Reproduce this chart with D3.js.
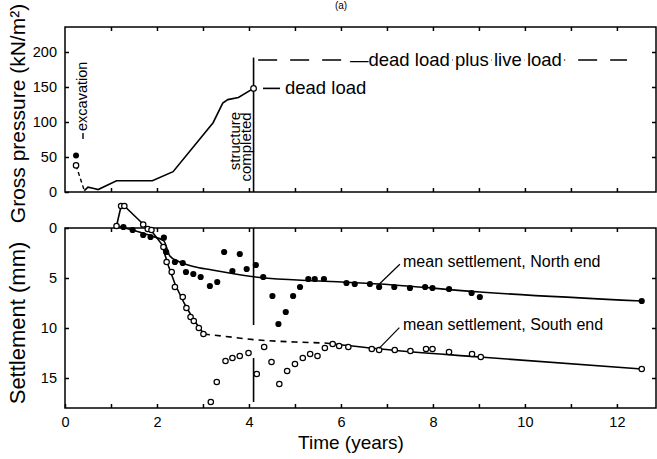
<!DOCTYPE html>
<html>
<head>
<meta charset="utf-8">
<script src="https://cdn.jsdelivr.net/npm/d3@7"></script>
<style>
  html, body { margin: 0; padding: 0; background: #fff; }
  svg { display: block; }
  text { font-family: "Liberation Sans", Arial, Helvetica, sans-serif; fill: #000; }
</style>
</head>
<body>
<svg id="chart" width="657" height="459"></svg>
<script>
// ---- Gross pressure history (top panel) ----
const pressureT = [0.42, 0.5, 0.63, 0.72, 1.12, 1.9, 2.35, 3.22, 3.43, 3.54, 3.77, 4.1];
const pressureP = [2, 7, 5, 3.5, 16, 16, 29, 99, 127, 132, 135, 148];
const excavationT = [0.24, 0.42];
const excavationP = [38, 2];
const excavationFilled = { t: 0.24, p: 52 };
const completionT = 4.1;
const completionTop = 192;
const liveLoadP = 188.5;
const liveLoadSpan = [4.2, 12.22];
const pressureTicks = [0, 50, 100, 150, 200];

// ---- Settlement records (bottom panel) ----
const northT = [1.27, 1.47, 1.70, 1.86, 2.15, 2.20, 2.39, 2.56, 2.63, 2.79, 2.95, 3.15, 3.31, 3.46, 3.64, 3.80, 3.95, 4.15, 4.31, 4.51, 4.64, 4.80, 4.96, 5.11, 5.29, 5.43, 5.63, 6.12, 6.30, 6.63, 6.83, 7.16, 7.50, 7.83, 7.99, 8.35, 8.84, 9.02, 12.54];
const northS = [-0.1, 0.2, 0.7, 0.9, 0.97, 2.4, 3.4, 3.5, 4.4, 4.6, 4.9, 5.8, 5.4, 2.4, 4.3, 2.6, 4.1, 3.7, 4.9, 6.8, 9.6, 8.4, 6.8, 5.9, 5.1, 5.1, 5.1, 5.5, 5.6, 5.6, 5.9, 5.9, 6.0, 5.9, 6.0, 6.1, 6.5, 6.9, 7.3];
const southT = [1.12, 1.22, 1.29, 1.70, 1.80, 1.88, 2.14, 2.21, 2.32, 2.39, 2.56, 2.64, 2.73, 2.80, 2.91, 3.01, 3.17, 3.30, 3.49, 3.64, 3.80, 3.99, 4.17, 4.33, 4.49, 4.66, 4.83, 5.00, 5.17, 5.33, 5.49, 5.65, 5.82, 5.96, 6.16, 6.67, 6.83, 7.17, 7.51, 7.85, 7.99, 8.35, 8.85, 9.04, 12.54];
const southS = [-0.2, -2.2, -2.2, -0.35, 0.1, 0.2, 1.9, 3.4, 4.4, 5.9, 6.9, 8.0, 8.9, 9.3, 10.0, 10.6, 17.4, 15.4, 13.3, 13.0, 12.8, 12.5, 14.6, 11.9, 13.4, 15.6, 14.3, 13.6, 13.0, 12.6, 12.8, 12.0, 11.6, 11.8, 11.9, 12.1, 12.2, 12.2, 12.3, 12.1, 12.1, 12.4, 12.6, 12.9, 14.1];

// mean settlement curves
const northMeanT = [1.12, 1.5, 1.88, 2.15, 2.28, 2.45, 2.79, 3.2, 3.51, 4.24, 5.54, 6.85, 9.02, 12.54];
const northMeanS = [-0.2, 0.25, 0.8, 1.3, 2.8, 3.3, 3.85, 4.2, 4.45, 4.95, 5.3, 5.6, 6.4, 7.3];
const southEarlyT = [1.12, 1.22, 1.29, 1.72, 1.9, 2.1, 2.25, 2.4, 2.6, 2.8, 3.02];
const southEarlyS = [-0.2, -2.2, -2.2, -0.3, 0.4, 1.6, 3.8, 5.7, 7.6, 9.2, 10.6];
const southGapT = [3.02, 3.5, 4.2, 5.0, 5.65];
const southGapS = [10.6, 10.85, 11.2, 11.4, 11.5];
const southLateT = [5.65, 6.85, 9.02, 12.54];
const southLateS = [11.5, 12.1, 12.9, 14.1];
const completionSegments = [[0, 9.7], [13.0, 17.4]];
const settlementTicks = [0, 5, 10, 15];
const yearTicks = d3.range(0, 13);

// ---- Layout ----
const svg = d3.select("#chart");
const left = 65, right = 656;
const x = d3.scaleLinear().domain([0, 12.85]).range([left, right]);
const yP = d3.scaleLinear().domain([0, 235.7]).range([192, 27]);
const yS = d3.scaleLinear().domain([0, 18]).range([228, 408]);
const INK = "#000";
const tickFont = "14.5px";

function styleAxis(g) {
  g.select(".domain").remove();
  g.selectAll(".tick line").attr("stroke", INK).attr("stroke-width", 1.5);
  g.selectAll(".tick text").style("font-size", tickFont).attr("fill", INK);
}

// frames
svg.append("rect").attr("x", left).attr("y", yP(235.7)).attr("width", right - left)
  .attr("height", yP(0) - yP(235.7)).attr("fill", "none").attr("stroke", INK).attr("stroke-width", 1.5);
svg.append("rect").attr("x", left).attr("y", yS(0)).attr("width", right - left)
  .attr("height", yS(18) - yS(0)).attr("fill", "none").attr("stroke", INK).attr("stroke-width", 1.5);

// top panel axes
svg.append("g").attr("transform", `translate(0,${yP(0)})`)
  .call(d3.axisBottom(x).tickValues(yearTicks.slice(1)).tickSize(-4).tickFormat("")).call(styleAxis);
svg.append("g").attr("transform", `translate(0,${yP(235.7)})`)
  .call(d3.axisTop(x).tickValues(yearTicks.slice(1)).tickSize(-4).tickFormat("")).call(styleAxis);
svg.append("g").attr("transform", `translate(${left},0)`)
  .call(d3.axisLeft(yP).tickValues(pressureTicks).tickSize(-4).tickPadding(8)).call(styleAxis);
svg.append("g").attr("transform", `translate(${right},0)`)
  .call(d3.axisRight(yP).tickValues(pressureTicks.slice(1)).tickSize(-4).tickFormat("")).call(styleAxis);

// bottom panel axes
svg.append("g").attr("transform", `translate(0,${yS(18)})`)
  .call(d3.axisBottom(x).tickValues(yearTicks).tickSize(-4).tickPadding(9)
    .tickFormat(d => d % 2 === 0 ? d : "")).call(styleAxis);
svg.append("g").attr("transform", `translate(0,${yS(0)})`)
  .call(d3.axisTop(x).tickValues(yearTicks.slice(1)).tickSize(-4).tickFormat("")).call(styleAxis);
svg.append("g").attr("transform", `translate(${left},0)`)
  .call(d3.axisLeft(yS).tickValues(settlementTicks).tickSize(-4).tickPadding(8)).call(styleAxis);
svg.append("g").attr("transform", `translate(${right},0)`)
  .call(d3.axisRight(yS).tickValues(settlementTicks.slice(1)).tickSize(-4).tickFormat("")).call(styleAxis);

// axis titles
svg.append("text").attr("transform", `translate(25,${(yP(0) + 5) / 2 + 15}) rotate(-90)`)
  .attr("text-anchor", "middle").style("font-size", "21px").text("Gross pressure (kN/m²)");
svg.append("text").attr("transform", `translate(25,${(yS(0) + yS(18)) / 2 + 5}) rotate(-90)`)
  .attr("text-anchor", "middle").style("font-size", "22px").text("Settlement (mm)");
svg.append("text").attr("x", (left + 12 * 46 + left) / 2 + 10).attr("y", 449)
  .attr("text-anchor", "middle").style("font-size", "19px").text("Time (years)");
svg.append("text").attr("x", 341).attr("y", 9).attr("text-anchor", "middle")
  .style("font-size", "10px").text("(a)");

// ---- top panel marks ----
const pLine = d3.line().x(d => x(d[0])).y(d => yP(d[1]));
svg.append("path").datum(d3.zip(pressureT, pressureP)).attr("d", pLine)
  .attr("fill", "none").attr("stroke", INK).attr("stroke-width", 1.6);
svg.append("path").datum(d3.zip(excavationT, excavationP)).attr("d", pLine)
  .attr("fill", "none").attr("stroke", INK).attr("stroke-width", 1.4).attr("stroke-dasharray", "4,3");
// completion marker line
svg.append("line").attr("x1", x(completionT)).attr("x2", x(completionT))
  .attr("y1", yP(completionTop)).attr("y2", yP(0)).attr("stroke", INK).attr("stroke-width", 1.6);
// dead + live load level
svg.append("line").attr("x1", x(liveLoadSpan[0])).attr("x2", x(liveLoadSpan[1]))
  .attr("y1", yP(liveLoadP)).attr("y2", yP(liveLoadP))
  .attr("stroke", INK).attr("stroke-width", 1.6).attr("stroke-dasharray", "19,13");
svg.append("text").attr("x", 350).attr("y", yP(liveLoadP) + 5.5)
  .style("font-size", "18.5px").attr("stroke", "#fff").attr("stroke-width", 7)
  .attr("paint-order", "stroke").attr("stroke-linejoin", "round")
  .text("—dead load plus live load");
// dead load label
svg.append("line").attr("x1", 263).attr("x2", 280).attr("y1", yP(148)).attr("y2", yP(148))
  .attr("stroke", INK).attr("stroke-width", 1.6);
svg.append("text").attr("x", 285).attr("y", yP(148) + 5.5).style("font-size", "18.5px").text("dead load");
// points
svg.append("circle").attr("cx", x(excavationFilled.t)).attr("cy", yP(excavationFilled.p)).attr("r", 3).attr("fill", INK);
svg.append("circle").attr("cx", x(excavationT[0])).attr("cy", yP(excavationP[0])).attr("r", 2.7)
  .attr("fill", "#fff").attr("stroke", INK).attr("stroke-width", 1.2);
svg.append("circle").attr("cx", x(completionT)).attr("cy", yP(148)).attr("r", 2.8)
  .attr("fill", "#fff").attr("stroke", INK).attr("stroke-width", 1.2);
// rotated annotations
svg.append("line").attr("x1", 83).attr("x2", 83).attr("y1", 139).attr("y2", 133)
  .attr("stroke", INK).attr("stroke-width", 1.4);
svg.append("text").attr("transform", "translate(87,131) rotate(-90)").style("font-size", "14.5px").text("excavation");
svg.append("text").attr("transform", `translate(${x(completionT) - 14},141) rotate(-90)`).attr("text-anchor", "middle")
  .style("font-size", "15px").text("structure");
svg.append("text").attr("transform", `translate(${x(completionT) - 2.5},147) rotate(-90)`).attr("text-anchor", "middle")
  .style("font-size", "15px").text("completed");

// ---- bottom panel marks ----
const sLine = d3.line().x(d => x(d[0])).y(d => yS(d[1]));
const sCurve = d3.line().x(d => x(d[0])).y(d => yS(d[1])).curve(d3.curveMonotoneX);
svg.append("path").datum(d3.zip(northMeanT, northMeanS)).attr("d", sCurve)
  .attr("fill", "none").attr("stroke", INK).attr("stroke-width", 1.6);
svg.append("path").datum(d3.zip(southEarlyT, southEarlyS)).attr("d", sLine)
  .attr("fill", "none").attr("stroke", INK).attr("stroke-width", 1.6);
svg.append("path").datum(d3.zip(southGapT, southGapS)).attr("d", sCurve)
  .attr("fill", "none").attr("stroke", INK).attr("stroke-width", 1.6).attr("stroke-dasharray", "6,5");
svg.append("path").datum(d3.zip(southLateT, southLateS)).attr("d", sCurve)
  .attr("fill", "none").attr("stroke", INK).attr("stroke-width", 1.6);
completionSegments.forEach(seg => {
  svg.append("line").attr("x1", x(completionT)).attr("x2", x(completionT))
    .attr("y1", yS(seg[0])).attr("y2", yS(seg[1])).attr("stroke", INK).attr("stroke-width", 1.6);
});
svg.append("g").selectAll("circle").data(d3.zip(northT, northS)).join("circle")
  .attr("cx", d => x(d[0])).attr("cy", d => yS(d[1])).attr("r", 3.1).attr("fill", INK);
svg.append("g").selectAll("circle").data(d3.zip(southT, southS)).join("circle")
  .attr("cx", d => x(d[0])).attr("cy", d => yS(d[1])).attr("r", 2.7)
  .attr("fill", "#fff").attr("stroke", INK).attr("stroke-width", 1.2);

// curve labels with leaders
svg.append("line").attr("x1", x(7.28)).attr("y1", yS(3.63)).attr("x2", x(6.83)).attr("y2", yS(5.63))
  .attr("stroke", INK).attr("stroke-width", 1.2);
svg.append("text").attr("x", x(7.35)).attr("y", yS(3.87)).style("font-size", "16px").text("mean settlement, North end");
svg.append("line").attr("x1", x(7.27)).attr("y1", yS(9.97)).attr("x2", x(6.83)).attr("y2", yS(12.03))
  .attr("stroke", INK).attr("stroke-width", 1.2);
svg.append("text").attr("x", x(7.35)).attr("y", yS(10.2)).style("font-size", "16px").text("mean settlement, South end");
</script>
</body>
</html>
